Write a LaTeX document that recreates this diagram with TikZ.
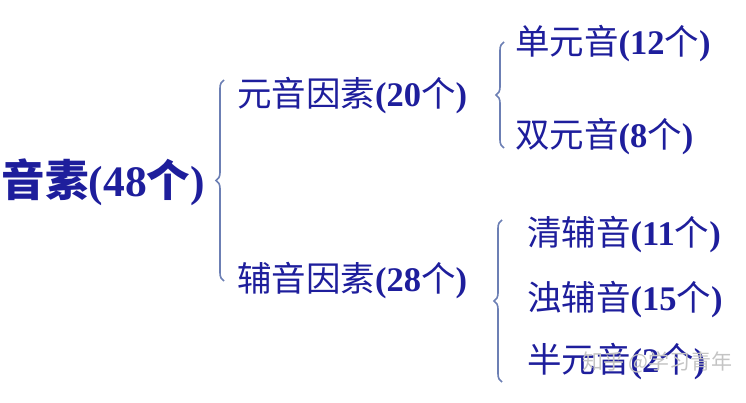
\documentclass[tikz,border=0pt]{standalone}
\usepackage{fontspec}
\setmainfont{Liberation Serif}
\newfontfamily\cjk{Noto Sans CJK SC}
\usetikzlibrary{decorations.pathreplacing}
\definecolor{txtblue}{HTML}{1E1E9C}
\definecolor{bracecol}{HTML}{6C7FB4}
\definecolor{wmgray}{HTML}{C4C4C4}
\newcommand{\mylbl}[2]{{\cjk #1}\textbf{(#2}{\cjk 个}\textbf{)}}
\begin{document}
\begin{tikzpicture}[x=1pt,y=-1pt,
  lvl/.style={anchor=west,inner sep=0pt,text=txtblue,font=\fontsize{34.5}{34.5}\selectfont},
  toplvl/.style={anchor=east,inner sep=0pt,text=txtblue,font=\fontsize{43.5}{43.5}\selectfont},
  bracepath/.style={draw=bracecol,line width=1.6pt,decorate,decoration={brace,amplitude=8pt}},
  wm/.style={anchor=west,inner sep=0pt,text=wmgray,font=\cjk\fontsize{21}{21}\selectfont}]
\useasboundingbox (0,0) rectangle (746,403);
\node[toplvl] (root) at (205,182) {{\cjk\bfseries 音素}\textbf{(48}{\cjk\bfseries 个}\textbf{)}};
\node[lvl] (vow) at (237,96) {\mylbl{元音因素}{20}};
\node[lvl] (cons) at (237,281) {\mylbl{辅音因素}{28}};
\node[lvl] (mono) at (515,44) {\mylbl{单元音}{12}};
\node[lvl] (diph) at (515,137) {\mylbl{双元音}{8}};
\node[lvl] (vl) at (527,235) {\mylbl{清辅音}{11}};
\node[lvl] (vd) at (527,300) {\mylbl{浊辅音}{15}};
\node[lvl] (semi) at (527,362) {\mylbl{半元音}{2}};
\coordinate (b1t) at (224,80);
\coordinate (b1b) at (224,281);
\coordinate (b2t) at (504,42);
\coordinate (b2b) at (504,148);
\coordinate (b3t) at (502,220);
\coordinate (b3b) at (502,382);
\draw[bracepath] (b1b) -- (b1t);
\draw[bracepath] (b2b) -- (b2t);
\draw[bracepath] (b3b) -- (b3t);
\node[wm] (mark) at (582,362) {知乎 @学习青年};
\end{tikzpicture}
\end{document}
